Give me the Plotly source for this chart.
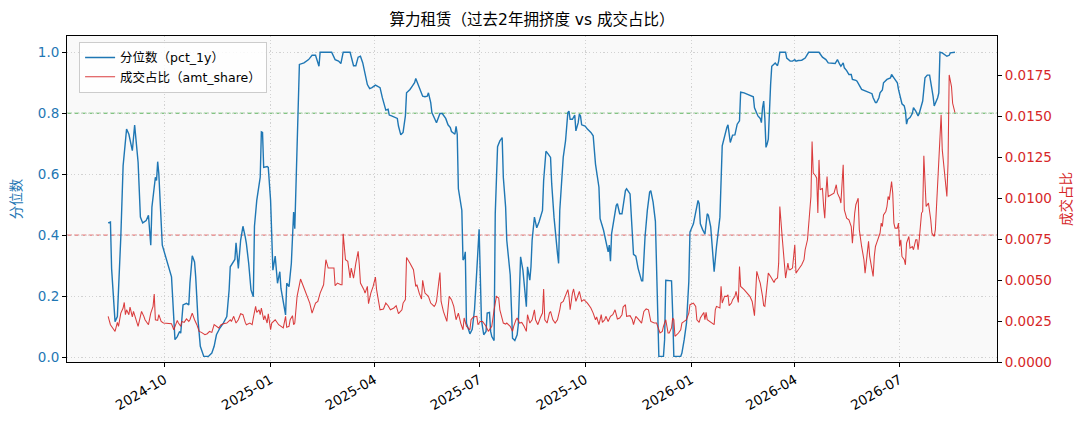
import plotly.graph_objects as go

# ---------------- data ----------------
pct_dates = [
    "2024-08-13","2024-08-15","2024-08-16","2024-08-19","2024-08-21","2024-08-24","2024-08-26","2024-08-29","2024-08-31","2024-09-03",
    "2024-09-05","2024-09-08","2024-09-10","2024-09-12","2024-09-15","2024-09-17","2024-09-19","2024-09-20","2024-09-23","2024-09-24",
    "2024-09-25","2024-09-26","2024-09-29","2024-10-03","2024-10-07","2024-10-10","2024-10-12","2024-10-14","2024-10-15","2024-10-17",
    "2024-10-20","2024-10-22","2024-10-23","2024-10-25","2024-10-27","2024-10-28","2024-10-30","2024-11-01","2024-11-04","2024-11-08",
    "2024-11-11","2024-11-13","2024-11-15","2024-11-18","2024-11-21","2024-11-24","2024-11-26","2024-11-27","2024-11-29","2024-12-01",
    "2024-12-02","2024-12-04","2024-12-06","2024-12-08","2024-12-10","2024-12-11","2024-12-13","2024-12-15","2024-12-17","2024-12-18",
    "2024-12-20","2024-12-22","2024-12-23","2024-12-24","2024-12-25","2024-12-26","2024-12-29","2024-12-30","2025-01-01","2025-01-03",
    "2025-01-05","2025-01-07","2025-01-09","2025-01-10","2025-01-12","2025-01-14","2025-01-15","2025-01-17","2025-01-19","2025-01-20",
    "2025-01-21","2025-01-22","2025-01-24","2025-01-26","2025-01-30","2025-02-03","2025-02-06","2025-02-09","2025-02-12","2025-02-13",
    "2025-02-23","2025-02-26","2025-03-01","2025-03-03","2025-03-05","2025-03-11","2025-03-14","2025-03-16","2025-03-18","2025-03-20",
    "2025-03-22","2025-03-24","2025-03-26","2025-03-28","2025-03-30","2025-04-02","2025-04-06","2025-04-08","2025-04-11","2025-04-13",
    "2025-04-14","2025-04-16","2025-04-19","2025-04-21","2025-04-22","2025-04-24","2025-04-26","2025-04-28","2025-04-29","2025-05-02",
    "2025-05-04","2025-05-06","2025-05-07","2025-05-09","2025-05-11","2025-05-13","2025-05-15","2025-05-17","2025-05-18","2025-05-20",
    "2025-05-21","2025-05-24","2025-05-25","2025-05-28","2025-05-30","2025-06-02","2025-06-04","2025-06-06","2025-06-07","2025-06-10",
    "2025-06-11","2025-06-12","2025-06-13","2025-06-16","2025-06-17","2025-06-18","2025-06-19","2025-06-20","2025-06-23","2025-06-25",
    "2025-06-27","2025-06-29","2025-07-01","2025-07-03","2025-07-05","2025-07-07","2025-07-08","2025-07-10","2025-07-11","2025-07-12",
    "2025-07-14","2025-07-15","2025-07-17","2025-07-19","2025-07-21","2025-07-22","2025-07-24","2025-07-25","2025-07-28","2025-07-29",
    "2025-07-30","2025-08-01","2025-08-03","2025-08-04","2025-08-06","2025-08-08","2025-08-10","2025-08-11","2025-08-12","2025-08-14",
    "2025-08-15","2025-08-16","2025-08-18","2025-08-19","2025-08-20","2025-08-22","2025-08-25","2025-08-26","2025-08-28","2025-08-30",
    "2025-09-01","2025-09-02","2025-09-04","2025-09-07","2025-09-08","2025-09-09","2025-09-12","2025-09-14","2025-09-16","2025-09-17",
    "2025-09-18","2025-09-20","2025-09-22","2025-09-23","2025-09-25","2025-09-26","2025-09-27","2025-09-28","2025-10-01","2025-10-03",
    "2025-10-06","2025-10-08","2025-10-10","2025-10-13","2025-10-14","2025-10-17","2025-10-20","2025-10-21","2025-10-22","2025-10-23",
    "2025-10-24","2025-10-26","2025-10-28","2025-10-29","2025-10-31","2025-11-02","2025-11-03","2025-11-05","2025-11-06","2025-11-09",
    "2025-11-12","2025-11-14","2025-11-16","2025-11-19","2025-11-20","2025-11-22","2025-11-24","2025-11-26","2025-11-27","2025-11-29",
    "2025-12-01","2025-12-03","2025-12-04","2025-12-08","2025-12-09","2025-12-10","2025-12-13","2025-12-15","2025-12-16","2025-12-17",
    "2025-12-23","2025-12-24","2025-12-26","2025-12-28","2025-12-30","2025-12-31","2026-01-03","2026-01-05","2026-01-07","2026-01-08",
    "2026-01-09","2026-01-11","2026-01-13","2026-01-15","2026-01-16","2026-01-18","2026-01-19","2026-01-21","2026-01-23","2026-01-26",
    "2026-01-28","2026-01-30","2026-02-01","2026-02-02","2026-02-03","2026-02-04","2026-02-06","2026-02-08","2026-02-10","2026-02-12",
    "2026-02-13","2026-02-16","2026-02-19","2026-02-24","2026-02-25","2026-02-26","2026-02-28","2026-03-02","2026-03-03","2026-03-04",
    "2026-03-05","2026-03-06","2026-03-07","2026-03-08","2026-03-09","2026-03-11","2026-03-12","2026-03-15","2026-03-17","2026-03-18",
    "2026-03-19","2026-03-24","2026-03-25","2026-03-28","2026-03-30","2026-04-01","2026-04-02","2026-04-04","2026-04-07","2026-04-10",
    "2026-04-13","2026-04-22","2026-04-25","2026-04-28","2026-04-30","2026-05-06","2026-05-08","2026-05-10","2026-05-11","2026-05-13",
    "2026-05-14","2026-05-16","2026-05-18","2026-05-20","2026-05-21","2026-05-24","2026-05-25","2026-05-29","2026-06-01","2026-06-04",
    "2026-06-07","2026-06-08","2026-06-10","2026-06-11","2026-06-13","2026-06-14","2026-06-16","2026-06-17","2026-06-20","2026-06-23",
    "2026-06-24","2026-06-26","2026-06-29","2026-06-30","2026-07-02","2026-07-03","2026-07-05","2026-07-06","2026-07-07","2026-07-08",
    "2026-07-10","2026-07-12","2026-07-13","2026-07-15","2026-07-17","2026-07-18","2026-07-19","2026-07-20","2026-07-21","2026-07-23",
    "2026-07-25","2026-07-27","2026-07-28","2026-07-30","2026-07-31","2026-08-02","2026-08-03","2026-08-04","2026-08-05","2026-08-07",
    "2026-08-09","2026-08-11","2026-08-13","2026-08-14","2026-08-18",
]
pct_1y = [
    0.440,0.443,0.290,0.116,0.133,0.394,0.628,0.748,0.731,0.677,
    0.761,0.639,0.459,0.440,0.448,0.465,0.367,0.492,0.590,0.579,
    0.641,0.601,0.367,0.318,0.263,0.057,0.067,0.084,0.078,0.171,
    0.176,0.171,0.242,0.332,0.312,0.263,0.122,0.035,0.002,0.002,
    0.013,0.035,0.073,0.095,0.111,0.133,0.220,0.296,0.307,0.320,
    0.375,0.291,0.383,0.429,0.394,0.372,0.307,0.220,0.198,0.429,
    0.514,0.573,0.590,0.739,0.737,0.622,0.625,0.622,0.514,0.285,
    0.331,0.242,0.280,0.225,0.187,0.138,0.242,0.231,0.307,0.372,
    0.476,0.421,0.677,0.960,0.965,0.976,0.990,0.990,0.954,1.000,
    1.000,0.976,0.971,0.963,1.000,1.000,0.956,0.956,0.984,0.987,
    0.965,0.933,0.894,0.881,0.884,0.892,0.884,0.851,0.810,0.813,
    0.794,0.791,0.786,0.783,0.758,0.729,0.737,0.791,0.867,0.878,
    0.889,0.900,0.914,0.894,0.873,0.856,0.854,0.856,0.867,0.835,
    0.802,0.780,0.769,0.799,0.799,0.783,0.762,0.753,0.740,0.731,
    0.757,0.731,0.552,0.481,0.318,0.323,0.345,0.111,0.076,0.091,
    0.155,0.285,0.419,0.122,0.073,0.084,0.144,0.146,0.084,0.067,
    0.054,0.470,0.690,0.709,0.720,0.590,0.492,0.383,0.269,0.165,
    0.062,0.054,0.073,0.106,0.329,0.285,0.209,0.165,0.296,0.252,
    0.296,0.383,0.459,0.437,0.424,0.443,0.481,0.579,0.675,0.666,
    0.655,0.568,0.459,0.340,0.307,0.481,0.655,0.709,0.802,0.807,
    0.780,0.780,0.794,0.742,0.769,0.797,0.791,0.762,0.758,0.748,
    0.737,0.726,0.633,0.557,0.454,0.416,0.361,0.345,0.367,0.314,
    0.405,0.454,0.497,0.503,0.470,0.470,0.492,0.546,0.552,0.535,
    0.337,0.331,0.291,0.250,0.250,0.394,0.481,0.541,0.546,0.508,
    0.445,0.100,0.002,0.002,0.057,0.252,0.252,0.250,0.144,0.002,
    0.002,0.013,0.057,0.111,0.247,0.410,0.437,0.481,0.514,0.503,
    0.437,0.418,0.403,0.470,0.465,0.427,0.372,0.280,0.361,0.459,
    0.693,0.726,0.753,0.762,0.726,0.704,0.728,0.729,0.764,0.775,
    0.869,0.867,0.862,0.854,0.818,0.807,0.791,0.783,0.769,0.818,
    0.840,0.783,0.688,0.699,0.715,0.894,0.954,0.965,0.956,0.971,
    1.000,1.000,0.981,0.971,0.971,0.976,0.971,0.973,0.974,0.981,
    1.000,1.000,0.984,0.976,0.965,0.963,0.976,0.960,0.954,0.965,
    0.949,0.940,0.927,0.927,0.911,0.908,0.905,0.878,0.873,0.867,
    0.864,0.851,0.835,0.835,0.851,0.867,0.876,0.900,0.911,0.916,
    0.927,0.916,0.900,0.878,0.845,0.831,0.824,0.807,0.764,0.780,
    0.786,0.799,0.818,0.807,0.791,0.799,0.813,0.824,0.840,0.916,
    0.925,0.925,0.905,0.856,0.824,0.840,0.851,0.867,1.000,0.998,
    0.992,0.987,0.990,0.998,1.000,
]

amt_dates = [
    "2024-08-13","2024-08-15","2024-08-18","2024-08-19","2024-08-21","2024-08-22","2024-08-24","2024-08-26","2024-08-27","2024-08-28",
    "2024-08-29","2024-08-31","2024-09-01","2024-09-03","2024-09-04","2024-09-06","2024-09-08","2024-09-10","2024-09-11","2024-09-13",
    "2024-09-14","2024-09-17","2024-09-19","2024-09-21","2024-09-22","2024-09-23","2024-09-25","2024-09-26","2024-09-28","2024-09-30",
    "2024-10-03","2024-10-07","2024-10-09","2024-10-10","2024-10-12","2024-10-13","2024-10-15","2024-10-16","2024-10-18","2024-10-20",
    "2024-10-22","2024-10-23","2024-10-25","2024-10-27","2024-10-29","2024-10-31","2024-11-02","2024-11-05","2024-11-07","2024-11-09",
    "2024-11-11","2024-11-13","2024-11-15","2024-11-17","2024-11-19","2024-11-21","2024-11-24","2024-11-27","2024-11-28","2024-11-30",
    "2024-12-02","2024-12-04","2024-12-06","2024-12-08","2024-12-10","2024-12-11","2024-12-14","2024-12-16","2024-12-17","2024-12-19",
    "2024-12-20","2024-12-22","2024-12-23","2024-12-24","2024-12-26","2024-12-27","2024-12-29","2024-12-30","2025-01-01","2025-01-02",
    "2025-01-05","2025-01-08","2025-01-12","2025-01-14","2025-01-15","2025-01-17","2025-01-18","2025-01-20","2025-01-21","2025-01-22",
    "2025-01-24","2025-01-27","2025-01-30","2025-02-02","2025-02-04","2025-02-06","2025-02-09","2025-02-11","2025-02-13","2025-02-16",
    "2025-02-18","2025-02-20","2025-02-22","2025-02-25","2025-02-26","2025-02-28","2025-03-03","2025-03-04","2025-03-05","2025-03-07",
    "2025-03-09","2025-03-11","2025-03-12","2025-03-14","2025-03-16","2025-03-18","2025-03-19","2025-03-20","2025-03-23","2025-03-24",
    "2025-03-26","2025-03-27","2025-03-29","2025-03-31","2025-04-02","2025-04-03","2025-04-06","2025-04-09","2025-04-11","2025-04-13",
    "2025-04-15","2025-04-18","2025-04-20","2025-04-22","2025-04-25","2025-04-26","2025-04-28","2025-04-29","2025-05-02","2025-05-05",
    "2025-05-07","2025-05-08","2025-05-10","2025-05-12","2025-05-13","2025-05-15","2025-05-18","2025-05-20","2025-05-23","2025-05-24",
    "2025-05-25","2025-05-28","2025-05-29","2025-05-31","2025-06-03","2025-06-05","2025-06-07","2025-06-09","2025-06-11","2025-06-13",
    "2025-06-15","2025-06-17","2025-06-18","2025-06-20","2025-06-23","2025-06-24","2025-06-26","2025-06-29","2025-06-30","2025-07-02",
    "2025-07-04","2025-07-07","2025-07-09","2025-07-12","2025-07-14","2025-07-16","2025-07-18","2025-07-19","2025-07-22","2025-07-24",
    "2025-07-25","2025-07-28","2025-07-30","2025-07-31","2025-08-02","2025-08-03","2025-08-05","2025-08-07","2025-08-09","2025-08-11",
    "2025-08-12","2025-08-14","2025-08-16","2025-08-18","2025-08-19","2025-08-21","2025-08-23","2025-08-25","2025-08-26","2025-08-27",
    "2025-08-29","2025-08-31","2025-09-01","2025-09-03","2025-09-05","2025-09-07","2025-09-09","2025-09-10","2025-09-12","2025-09-14",
    "2025-09-16","2025-09-17","2025-09-18","2025-09-20","2025-09-21","2025-09-23","2025-09-25","2025-09-26","2025-09-28","2025-09-30",
    "2025-10-03","2025-10-06","2025-10-08","2025-10-10","2025-10-11","2025-10-13","2025-10-15","2025-10-16","2025-10-18","2025-10-19",
    "2025-10-21","2025-10-23","2025-10-25","2025-10-27","2025-10-29","2025-10-31","2025-11-02","2025-11-03","2025-11-05","2025-11-06",
    "2025-11-09","2025-11-11","2025-11-12","2025-11-14","2025-11-16","2025-11-19","2025-11-21","2025-11-23","2025-11-25","2025-11-27",
    "2025-11-30","2025-12-02","2025-12-03","2025-12-05","2025-12-07","2025-12-08","2025-12-10","2025-12-12","2025-12-13","2025-12-15",
    "2025-12-16","2025-12-17","2025-12-18","2025-12-21","2025-12-23","2025-12-24","2025-12-26","2025-12-28","2025-12-30","2025-12-31",
    "2026-01-03","2026-01-05","2026-01-06","2026-01-08","2026-01-09","2026-01-10","2026-01-12","2026-01-13","2026-01-14","2026-01-15",
    "2026-01-17","2026-01-19","2026-01-21","2026-01-22","2026-01-23","2026-01-26","2026-01-27","2026-01-28","2026-01-30","2026-02-01",
    "2026-02-02","2026-02-03","2026-02-05","2026-02-06","2026-02-08","2026-02-09","2026-02-11","2026-02-12","2026-02-13","2026-02-16",
    "2026-02-19","2026-02-21","2026-02-23","2026-02-25","2026-02-26","2026-02-27","2026-03-01","2026-03-02","2026-03-04","2026-03-05",
    "2026-03-06","2026-03-07","2026-03-09","2026-03-11","2026-03-12","2026-03-14","2026-03-15","2026-03-17","2026-03-18","2026-03-19",
    "2026-03-21","2026-03-23","2026-03-24","2026-03-26","2026-03-27","2026-03-28","2026-03-30","2026-04-01","2026-04-02","2026-04-04",
    "2026-04-07","2026-04-09","2026-04-10","2026-04-12","2026-04-13","2026-04-15","2026-04-16","2026-04-17","2026-04-19","2026-04-20",
    "2026-04-21","2026-04-22","2026-04-23","2026-04-25","2026-04-26","2026-04-27","2026-04-28","2026-04-29","2026-04-30","2026-05-03",
    "2026-05-05","2026-05-07","2026-05-08","2026-05-10","2026-05-11","2026-05-13","2026-05-14","2026-05-16","2026-05-18","2026-05-20",
    "2026-05-21","2026-05-23","2026-05-24","2026-05-26","2026-05-27","2026-05-29","2026-05-31","2026-06-01","2026-06-03","2026-06-04",
    "2026-06-05","2026-06-06","2026-06-08","2026-06-09","2026-06-10","2026-06-11","2026-06-13","2026-06-14","2026-06-15","2026-06-16",
    "2026-06-17","2026-06-19","2026-06-20","2026-06-21","2026-06-22","2026-06-24","2026-06-25","2026-06-26","2026-06-27","2026-06-29",
    "2026-06-30","2026-07-01","2026-07-02","2026-07-03","2026-07-05","2026-07-06","2026-07-07","2026-07-09","2026-07-10","2026-07-12",
    "2026-07-13","2026-07-15","2026-07-16","2026-07-17","2026-07-18","2026-07-19","2026-07-20","2026-07-21","2026-07-22","2026-07-24",
    "2026-07-25","2026-07-26","2026-07-28","2026-07-29","2026-07-31","2026-08-01","2026-08-02","2026-08-04","2026-08-06","2026-08-07",
    "2026-08-09","2026-08-11","2026-08-12","2026-08-13","2026-08-15","2026-08-16","2026-08-18",
]
amt_share = [
    0.00279,0.00228,0.00197,0.00187,0.00242,0.00218,0.00299,0.00330,0.00364,0.00289,
    0.00319,0.00289,0.00336,0.00275,0.00309,0.00258,0.00218,0.00279,0.00309,0.00279,
    0.00258,0.00228,0.00299,0.00340,0.00415,0.00258,0.00254,0.00289,0.00248,0.00238,
    0.00238,0.00234,0.00197,0.00218,0.00254,0.00238,0.00218,0.00248,0.00242,0.00263,
    0.00248,0.00258,0.00299,0.00258,0.00228,0.00187,0.00181,0.00167,0.00173,0.00187,
    0.00181,0.00228,0.00218,0.00208,0.00228,0.00234,0.00238,0.00258,0.00248,0.00279,
    0.00238,0.00258,0.00295,0.00289,0.00242,0.00228,0.00238,0.00228,0.00269,0.00340,
    0.00303,0.00319,0.00289,0.00330,0.00258,0.00283,0.00238,0.00295,0.00197,0.00238,
    0.00258,0.00228,0.00208,0.00279,0.00212,0.00218,0.00258,0.00283,0.00228,0.00238,
    0.00401,0.00507,0.00452,0.00401,0.00360,0.00299,0.00360,0.00370,0.00421,0.00472,
    0.00625,0.00574,0.00574,0.00574,0.00466,0.00482,0.00472,0.00472,0.00784,0.00625,
    0.00615,0.00513,0.00574,0.00513,0.00604,0.00676,0.00594,0.00482,0.00442,0.00421,
    0.00462,0.00356,0.00421,0.00462,0.00519,0.00442,0.00319,0.00324,0.00360,0.00344,
    0.00319,0.00330,0.00344,0.00295,0.00319,0.00360,0.00381,0.00639,0.00604,0.00564,
    0.00462,0.00472,0.00421,0.00385,0.00499,0.00421,0.00401,0.00360,0.00340,0.00350,
    0.00370,0.00547,0.00370,0.00309,0.00248,0.00401,0.00381,0.00340,0.00258,0.00299,
    0.00238,0.00197,0.00269,0.00218,0.00197,0.00258,0.00275,0.00279,0.00228,0.00248,
    0.00248,0.00218,0.00187,0.00218,0.00319,0.00401,0.00391,0.00319,0.00238,0.00232,
    0.00238,0.00218,0.00187,0.00218,0.00258,0.00269,0.00238,0.00242,0.00218,0.00187,
    0.00289,0.00238,0.00258,0.00319,0.00258,0.00228,0.00269,0.00299,0.00446,0.00258,
    0.00238,0.00299,0.00309,0.00258,0.00238,0.00258,0.00319,0.00360,0.00370,0.00401,
    0.00442,0.00401,0.00319,0.00421,0.00446,0.00370,0.00411,0.00431,0.00370,0.00381,
    0.00360,0.00330,0.00299,0.00258,0.00275,0.00228,0.00289,0.00242,0.00258,0.00279,
    0.00248,0.00279,0.00289,0.00319,0.00263,0.00269,0.00289,0.00336,0.00350,0.00279,
    0.00283,0.00258,0.00228,0.00279,0.00263,0.00238,0.00309,0.00324,0.00319,0.00248,
    0.00238,0.00238,0.00218,0.00177,0.00187,0.00218,0.00258,0.00177,0.00177,0.00208,
    0.00269,0.00258,0.00157,0.00177,0.00197,0.00238,0.00248,0.00258,0.00299,0.00350,
    0.00360,0.00340,0.00258,0.00242,0.00269,0.00283,0.00303,0.00258,0.00303,0.00258,
    0.00248,0.00238,0.00228,0.00319,0.00340,0.00330,0.00462,0.00360,0.00401,0.00401,
    0.00411,0.00344,0.00360,0.00381,0.00401,0.00431,0.00364,0.00584,0.00462,0.00442,
    0.00421,0.00401,0.00370,0.00283,0.00421,0.00554,0.00503,0.00482,0.00401,0.00344,
    0.00340,0.00401,0.00543,0.00523,0.00513,0.00486,0.00503,0.00513,0.00604,0.00950,
    0.00767,0.00604,0.00513,0.00604,0.00564,0.00564,0.00574,0.00716,0.00543,0.00564,
    0.00594,0.00625,0.00686,0.00747,0.00828,0.01011,0.01347,0.01154,0.01138,0.01123,
    0.00910,0.01235,0.01052,0.01062,0.00950,0.00879,0.01032,0.01133,0.01011,0.01022,
    0.01032,0.01083,0.01032,0.01001,0.00971,0.01205,0.00930,0.00879,0.00869,0.00828,
    0.00726,0.00910,0.00961,0.01001,0.00808,0.00706,0.00625,0.00543,0.00686,0.00737,
    0.00645,0.00604,0.00523,0.00645,0.00706,0.00726,0.00767,0.00788,0.00849,0.00828,
    0.00899,0.00920,0.00950,0.01011,0.00991,0.01103,0.01032,0.00849,0.00818,0.00818,
    0.00849,0.00706,0.00747,0.00645,0.00625,0.00594,0.00726,0.00767,0.00696,0.00706,
    0.00686,0.00747,0.00747,0.00686,0.00747,0.00828,0.00910,0.00920,0.01260,0.00950,
    0.00961,0.00971,0.00869,0.00788,0.00767,0.00808,0.00950,0.01195,0.01510,0.01296,
    0.01144,0.01011,0.01215,0.01754,0.01683,0.01581,0.01524,
]

x_tick_dates = ["2024-10-01","2025-01-01","2025-04-01","2025-07-01","2025-10-01","2026-01-01","2026-04-01","2026-07-01"]
x_tick_labels = ["2024-10","2025-01","2025-04","2025-07","2025-10","2026-01","2026-04","2026-07"]
left_ticks = [0.0, 0.2, 0.4, 0.6, 0.8, 1.0]
right_ticks = [0.0, 0.0025, 0.005, 0.0075, 0.01, 0.0125, 0.015, 0.0175]
high_line = 0.8
low_line = 0.4

title_text = "算力租赁（过去2年拥挤度 vs 成交占比）"
name_pct = "分位数（pct_1y）"
name_amt = "成交占比（amt_share）"

# ---------------- styling ----------------
BLUE = "#1f77b4"
RED = "#d62728"
FONT = "DejaVu Sans, Noto Sans CJK SC, sans-serif"
GRID = "#d2d2d2"

# the page body adds an 8px offset, so the figure is 8px smaller in each direction
W, H = 1081, 421

fig = go.Figure()
fig.add_trace(go.Scatter(
    x=pct_dates, y=pct_1y, mode="lines", name=name_pct,
    line=dict(color=BLUE, width=1.4), yaxis="y",
))
fig.add_trace(go.Scatter(
    x=amt_dates, y=amt_share, mode="lines", name=name_amt,
    line=dict(color="rgba(214,39,40,0.9)", width=1.05), yaxis="y2",
))

fig.add_shape(type="line", xref="paper", x0=0, x1=1, yref="y", y0=high_line, y1=high_line,
              line=dict(color="rgba(44,160,44,0.8)", width=1, dash="5px,2.2px"), layer="below")
fig.add_shape(type="line", xref="paper", x0=0, x1=1, yref="y", y0=low_line, y1=low_line,
              line=dict(color="rgba(214,39,40,0.75)", width=1, dash="5px,2.2px"), layer="below")

fig.update_layout(
    width=W, height=H,
    margin=dict(l=59, r=92, t=28, b=67, autoexpand=False),
    paper_bgcolor="white",
    plot_bgcolor="#f9f9f9",
    font=dict(family=FONT, size=13.5, color="black"),
    title=dict(text=title_text, x=0.5, xref="paper", xanchor="center",
               y=1 - 12 / H, yref="container", yanchor="middle",
               font=dict(size=15.5, color="black")),
    showlegend=True,
    legend=dict(x=0.013, y=0.982, xanchor="left", yanchor="top",
                bgcolor="rgba(255,255,255,0.85)", bordercolor="#cccccc", borderwidth=1,
                font=dict(size=12.5), itemwidth=30),
    xaxis=dict(
        type="date", automargin=False,
        range=["2024-07-08 07:00", "2026-09-23 12:00"],
        tickmode="array", tickvals=x_tick_dates, ticktext=x_tick_labels,
        tickangle=-30, tickfont=dict(size=13.5),
        showline=True, linecolor="black", linewidth=1, mirror=True,
        ticks="outside", ticklen=4, tickcolor="black",
        showgrid=True, gridcolor=GRID, gridwidth=0.8, griddash="1.2px,2.4px",
        zeroline=False,
    ),
    yaxis=dict(
        automargin=False,
        range=[-0.0164, 1.0534],
        tickmode="array", tickvals=left_ticks, tickformat=".1f",
        tickfont=dict(color=BLUE, size=13.5),
        title=dict(text="分位数", font=dict(color=BLUE, size=13.5), standoff=14),
        showline=True, linecolor="black", linewidth=1,
        ticks="outside", ticklen=4, tickcolor="black",
        showgrid=True, gridcolor=GRID, gridwidth=0.8, griddash="1.2px,2.4px",
        zeroline=False,
    ),
    yaxis2=dict(
        overlaying="y", side="right", automargin=False,
        range=[0, 0.01992],
        tickmode="array", tickvals=right_ticks, tickformat=".4f",
        tickfont=dict(color=RED, size=13.5),
        title=dict(text="成交占比", font=dict(color=RED, size=13.5), standoff=10),
        showline=True, linecolor="black", linewidth=1,
        ticks="outside", ticklen=4, tickcolor="black",
        showgrid=False, zeroline=False,
    ),
)

fig.write_html("out.html")
